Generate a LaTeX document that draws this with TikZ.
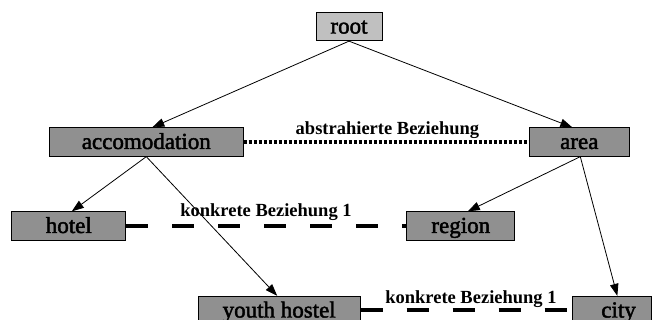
\documentclass[tikz,border=0pt]{standalone}
\usepackage{fontspec}
\setmainfont{Liberation Serif}
\newfontfamily\boxfont[FakeBold=2]{Liberation Serif}
\usetikzlibrary{arrows.meta}
\definecolor{rootfill}{HTML}{C0C0C0}
\definecolor{boxfill}{HTML}{909090}
\begin{document}
\begin{tikzpicture}[x=1pt,y=-1pt,
  box/.style={draw=black, line width=0.8pt, fill=boxfill, inner sep=0pt,
    font=\boxfont\fontsize{23}{23}\selectfont, text height=16pt, text depth=2pt,
    minimum height=28.5pt},
  rootbox/.style={box, fill=rootfill},
  edge/.style={line width=0.8pt, -{Triangle[length=12pt,width=8.5pt]}},
  abstractrel/.style={line width=4pt, dash pattern=on 3pt off 2pt},
  concreterel/.style={line width=4pt, dash pattern=on 22pt off 24pt},
  rellabel/.style={font=\fontsize{18.5}{18.5}\selectfont\bfseries, inner sep=0pt, anchor=base}]
\useasboundingbox (0,0) rectangle (656,320);
\clip (0,0) rectangle (656,320);

% class nodes
\node[rootbox, minimum width=66pt]  (root)   at (349,26.5)  {root};
\node[box, minimum width=194pt]     (acc)    at (146.3,142) {accomodation};
\node[box, minimum width=100pt]     (area)   at (579.3,142) {area};
\node[box, minimum width=114pt]     (hotel)  at (68.8,226)  {hotel};
\node[box, minimum width=108pt]     (region) at (460.8,226) {region};
\node[box, minimum width=162pt]     (youth)  at (279.2,310.5) {youth hostel};
\node[box, text width=47pt, align=right, inner xsep=16pt] (city) at (612.3,310.5) {city};

% hierarchy
\draw[edge] (root.south) -- ([xshift=6pt]acc.north);
\draw[edge] (root.south) -- ([xshift=-7pt]area.north);
\draw[edge] (acc.south) -- ([xshift=3pt]hotel.north);
\draw[edge] (acc.south) -- ([xshift=-2pt]youth.north);
\draw[edge] ([xshift=1pt]area.south) -- ([xshift=7pt]region.north);
\draw[edge] ([xshift=1pt]area.south) -- ([xshift=5pt]city.north);

% relations
\draw[abstractrel] (acc.east) -- (area.west)
  node[rellabel, pos=0.504, yshift=7pt] {abstrahierte Beziehung};
\draw[concreterel] (hotel.east) -- (region.west)
  node[rellabel, pos=0.499, yshift=9pt] {konkrete Beziehung 1};
\draw[concreterel] (youth.east) -- (city.west)
  node[rellabel, pos=0.521, yshift=7pt] {konkrete Beziehung 1};
\end{tikzpicture}
\end{document}
